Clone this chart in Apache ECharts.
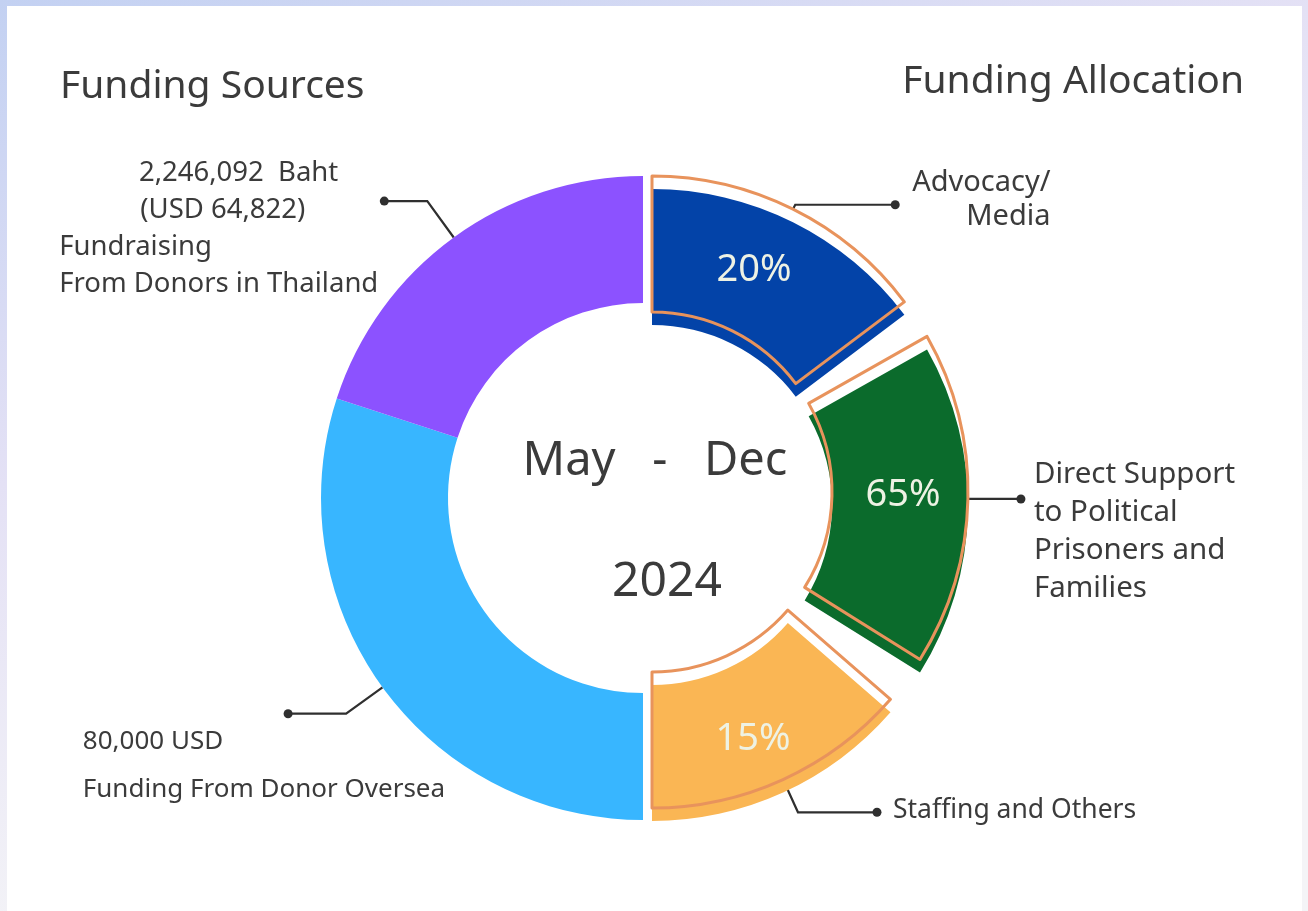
<!DOCTYPE html>
<html>
<head>
<meta charset="utf-8">
<title>Funding Sources / Funding Allocation</title>
<script src="https://cdn.jsdelivr.net/npm/echarts@6/dist/echarts.min.js"></script>
<style>
    html, body{
        margin: 0;
        padding: 0;
    }
    body{
        width: 1308px;
        height: 911px;
        position: relative;
        overflow: hidden;
        background: linear-gradient(160deg, #c3d1f2 0%, #e4e1f5 35%, #f4f4f7 70%);
    }
    .card{
        position: absolute;
        left: 7px;
        top: 6px;
        width: 1295px;
        height: 905px;
        background: #fff;
    }
    #chart{
        position: absolute;
        left: 0;
        top: 0;
        width: 1308px;
        height: 911px;
    }
</style>
</head>
<body>
<div class="card"></div>
<div id="chart"></div>
<script>
    // 资金来源 (left half of the ring)
    var sourceNames = ['Funding From Donor Oversea', 'Fundraising\nFrom Donors in Thailand'];
    var sourceAmounts = ['80,000 USD', '2,246,092  Baht\n(USD 64,822)'];
    var sourceArc = [108, 72];          // degrees of the half ring, as drawn
    var sourceColors = ['#38B6FF', '#8C52FF'];

    // 资金分配 (right half, separated pieces)
    var allocNames = ['Advocacy/\nMedia', 'Direct Support\nto Political\nPrisoners and\nFamilies', 'Staffing and Others'];
    var allocPct = [20, 65, 15];
    var allocArc = [53, 61.5, 49];      // drawn sizes, not proportional to the %
    var allocGap = [7.5, 9];
    var allocColors = ['#0343A8', '#0B6B2C', '#FAB654'];

    var titles = ['Funding Sources', 'Funding Allocation'];
    var periodText = ['May   -   Dec', '2024'];

    var font = 'Noto Sans';
    var textColor = '#3b3b3b';
    var outlineColor = '#E8935C';

    function sum(arr){
        return arr.reduce(function(a, b){ return a + b; }, 0);
    }
    function blank(v){
        return {
            value: v,
            itemStyle: {color: 'rgba(0,0,0,0)', borderWidth: 0},
            label: {show: false},
            labelLine: {show: false},
            emphasis: {disabled: true}
        };
    }
    function line(len, len2, hide){
        return {
            show: true,
            length: len,
            length2: len2,
            smooth: false,
            lineStyle: {color: '#2f2f2f', width: 2.2, opacity: hide ? 0 : 1}
        };
    }
    function tok(style, s){
        return s.split('\n').map(function(t){ return '{' + style + '|' + t + '}'; }).join('\n');
    }
    function rt(size, extra){
        var o = {fontFamily: font, fontSize: size, color: textColor};
        for (var k in extra) o[k] = extra[k];
        return o;
    }

    // label geometry per slice: [length, length2, distance, padding]
    var srcLabelGeo = [
        [45, 58, -157, [104, 0, 0, 0]],
        [45, 43, 6, [55, 0, 0, 0]]
    ];
    var allocLabelGeo = [
        [5, 100, 17, [0, 0, 9, 0]],
        [3, 50, 13, [66, 0, 0, 0]],
        [36, 79, 16, [0, 0, 4, 0]]
    ];
    var pctPadding = [[0, 20, 20, 0], [0, 0, 30, 0], [12, 6, 0, 0]];

    var srcText = [
        tok('l', sourceAmounts[0]) + '\n' + tok('l', sourceNames[0]),
        '{a1|' + sourceAmounts[1].split('\n')[0] + '}\n{a2|' + sourceAmounts[1].split('\n')[1] + '}\n' + tok('l', sourceNames[1])
    ];
    var srcRich = [
        {l: rt(26, {align: 'left', lineHeight: 48})},
        {
            a1: rt(27.5, {align: 'right', lineHeight: 37, padding: [0, 40, 0, 0]}),
            a2: rt(27.5, {align: 'right', lineHeight: 37, padding: [0, 73, 0, 0]}),
            l: rt(27.5, {align: 'left', lineHeight: 37})
        }
    ];
    var allocText = [tok('r', allocNames[0]), tok('l', allocNames[1]), tok('l', allocNames[2])];
    var allocRich = [
        {r: rt(29, {align: 'right', lineHeight: 34})},
        {l: rt(29.5, {align: 'left', lineHeight: 38})},
        {l: rt(26.5, {align: 'left', lineHeight: 30})}
    ];
    var pctRich = {p: {fontFamily: font, fontSize: 38, color: '#EEF2E4', lineHeight: 40}};

    var dotRich = {d: {width: 9, height: 9, borderRadius: 4.5, backgroundColor: '#2f2f2f'}};

    function sourceData(withDots){
        var data = [blank(sum(sourceArc))];
        sourceArc.forEach(function(v, i){
            var g = srcLabelGeo[i];
            data.push({
                name: sourceNames[i],
                value: v,
                itemStyle: {color: withDots ? 'rgba(0,0,0,0)' : sourceColors[i]},
                label: withDots ? {formatter: '{d|}', rich: dotRich, distanceToLabelLine: -4.5}
                    : {formatter: srcText[i], rich: srcRich[i], distanceToLabelLine: g[2], padding: g[3]},
                labelLine: line(g[0], g[1], withDots)
            });
        });
        return data;
    }
    function allocData(kind){
        var data = [];
        allocArc.forEach(function(v, i){
            var g = allocLabelGeo[i];
            var item = {name: allocNames[i].replace(/\n/g, ' '), value: v};
            if (kind === 'fill'){
                item.itemStyle = {color: allocColors[i]};
                item.label = {position: 'inside', formatter: '{p|' + allocPct[i] + '%}', rich: pctRich, padding: pctPadding[i]};
                item.labelLine = {show: false};
            } else if (kind === 'outline'){
                item.itemStyle = {color: 'rgba(0,0,0,0)', borderColor: outlineColor, borderWidth: 3};
                item.label = {formatter: allocText[i], rich: allocRich[i], distanceToLabelLine: g[2], padding: g[3]};
                item.labelLine = line(g[0], g[1], false);
            } else {
                item.itemStyle = {color: 'rgba(0,0,0,0)'};
                item.label = {formatter: '{d|}', rich: dotRich, distanceToLabelLine: -4.5};
                item.labelLine = line(g[0], g[1], true);
            }
            data.push(item);
            if (i < allocGap.length) data.push(blank(allocGap[i]));
        });
        data.push(blank(sum(allocArc) + sum(allocGap)));
        return data;
    }

    var pieBase = {
        type: 'pie',
        startAngle: 90,
        clockwise: true,
        avoidLabelOverlap: false,
        silent: true,
        animation: false,
        emphasis: {disabled: true},
        label: {position: 'outside', fontFamily: font, fontSize: 26, color: textColor},
        labelLine: {lineStyle: {color: '#2f2f2f', width: 2.2}}
    };
    function pie(extra){
        var o = JSON.parse(JSON.stringify(pieBase));
        for (var k in extra) o[k] = extra[k];
        return o;
    }

    var option = {
        animation: false,
        graphic: [
            {type: 'text', x: 60, y: 87, style: {text: titles[0], fontFamily: font, fontSize: 39, fill: textColor, align: 'left', verticalAlign: 'middle'}},
            {type: 'text', x: 1244, y: 82, style: {text: titles[1], fontFamily: font, fontSize: 39, fill: textColor, align: 'right', verticalAlign: 'middle'}},
            {type: 'text', x: 655, y: 462, style: {text: periodText[0], fontFamily: font, fontSize: 47, fill: textColor, align: 'center', verticalAlign: 'middle'}},
            {type: 'text', x: 667, y: 582, style: {text: periodText[1], fontFamily: font, fontSize: 48, fill: textColor, align: 'center', verticalAlign: 'middle'}}
        ],
        series: [
            pie({name: 'sources', center: [643, 498], radius: [195, 322], data: sourceData(false)}),
            pie({name: 'sources-dots', center: [643, 498], radius: [195, 322], data: sourceData(true)}),
            pie({
                name: 'allocation', center: [652, 505], radius: [180, 316], data: allocData('fill'),
                label: {position: 'inside', fontFamily: font, fontSize: 38, color: '#EEF2E4'}
            }),
            pie({name: 'allocation-outline', center: [652, 492], radius: [180, 316], data: allocData('outline')}),
            pie({name: 'allocation-dots', center: [652, 492], radius: [180, 316], data: allocData('dots')})
        ]
    };

    echarts.init(document.getElementById('chart')).setOption(option);
</script>
</body>
</html>
